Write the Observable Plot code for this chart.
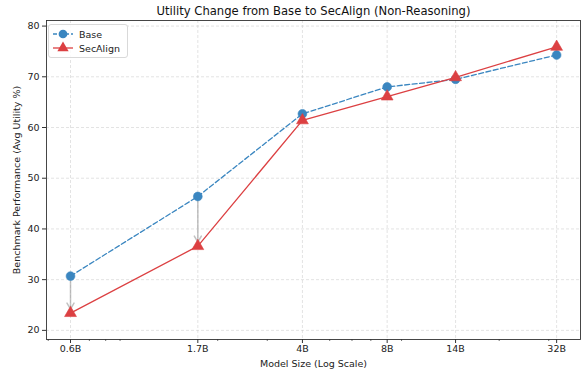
<!DOCTYPE html>
<html>
<head>
<meta charset="utf-8">
<script src="https://cdn.jsdelivr.net/npm/d3@7"></script>
<script src="https://cdn.jsdelivr.net/npm/@observablehq/plot@0.6"></script>
<style>
  html, body { margin: 0; padding: 0; background: #fff; }
  #wrap { position: relative; width: 582px; height: 374px; font-family: "DejaVu Sans", sans-serif; }
  #legend { position: absolute; left: 48px; top: 24px; width: 78px; height: 32px; border: 1px solid #d9d9d9; border-radius: 3px; background: rgba(255,255,255,0.85); font-size: 9.5px; color: #222; }
  .item { position: absolute; left: 3px; height: 14px; display: flex; align-items: center; }
  .item span { margin-left: 5px; }
</style>
</head>
<body>
<div id="wrap"></div>
<script>
const sizes = [0.6, 1.7, 4, 8, 14, 32];
const sizeLabels = ["0.6B", "1.7B", "4B", "8B", "14B", "32B"];
const baseValues = [30.7, 46.4, 62.7, 68.0, 69.5, 74.3];
const secAlignValues = [23.4, 36.6, 61.4, 66.1, 69.9, 75.9];
const yTicks = [20, 30, 40, 50, 60, 70, 80];
const minorTicks = [0.5, 0.7, 0.8, 0.9, 2, 3, 5, 6, 7, 9, 20, 30];
const arrowSizes = [0.6, 1.7];

const blue = "#3a86c0";
const red = "#dc4042";

const base = sizes.map((s, i) => ({size: s, value: baseValues[i]}));
const sec = sizes.map((s, i) => ({size: s, value: secAlignValues[i]}));
const ticksData = sizes.map((s, i) => ({size: s, label: sizeLabels[i]}));
const arrows = sizes.map((s, i) => ({size: s, from: baseValues[i], to: secAlignValues[i]}))
  .filter(d => arrowSizes.includes(d.size));

const chart = Plot.plot({
  width: 582,
  height: 374,
  marginLeft: 46,
  marginRight: 2,
  marginTop: 20,
  marginBottom: 35,
  style: {fontFamily: "DejaVu Sans, sans-serif", fontSize: "9.5px", color: "#222", background: "#fff"},
  x: {type: "log", domain: [0.493, 38.9]},
  y: {domain: [18.2, 81.1]},
  marks: [
    Plot.gridX(sizes, {stroke: "#bbb", strokeOpacity: 0.6, strokeDasharray: "3,2", strokeWidth: 0.7}),
    Plot.gridY(yTicks, {stroke: "#bbb", strokeOpacity: 0.6, strokeDasharray: "3,2", strokeWidth: 0.7}),
    Plot.axisX(minorTicks, {tickSize: 2, text: null, label: null, strokeWidth: 0.7, stroke: "#333"}),
    Plot.axisX(sizes, {tickSize: 4, text: null,
      label: "Model Size (Log Scale)", labelAnchor: "center", labelOffset: 27, labelArrow: "none", stroke: "#333"}),
    Plot.text(ticksData, {x: "size", text: "label", frameAnchor: "bottom", dy: 12, fill: "#222", fontSize: 9.5}),
    Plot.axisY(yTicks, {tickSize: 4, tickPadding: 3,
      label: "Benchmark Performance (Avg Utility %)", labelAnchor: "center", labelOffset: 33, labelArrow: "none", stroke: "#333"}),
    Plot.frame({stroke: "#333", strokeWidth: 0.9}),
    Plot.arrow(arrows, {x1: "size", x2: "size", y1: "from", y2: "to", stroke: "#999", strokeOpacity: 0.6,
      strokeWidth: 1.5, headLength: 7, insetStart: 5, insetEnd: 4}),
    Plot.line(base, {x: "size", y: "value", stroke: blue, strokeWidth: 1.3, strokeDasharray: "5,2.5"}),
    Plot.line(sec, {x: "size", y: "value", stroke: red, strokeWidth: 1.3}),
    Plot.dot(base, {x: "size", y: "value", r: 4.4, fill: blue, stroke: blue, strokeWidth: 0.6}),
    Plot.dot(sec, {x: "size", y: "value", symbol: "triangle", r: 4.4, fill: red, stroke: red, strokeWidth: 0.6}),
    Plot.text(["Utility Change from Base to SecAlign (Non-Reasoning)"], {frameAnchor: "top", dy: -9, fontSize: 11.6, fill: "#111", lineAnchor: "middle"})
  ]
});

const wrap = document.getElementById("wrap");
wrap.appendChild(chart);

const legend = document.createElement("div");
legend.id = "legend";
const entries = [
  {name: "Base", color: blue, dash: "4,2", marker: "circle", top: 2},
  {name: "SecAlign", color: red, dash: null, marker: "triangle", top: 16}
];
for (const e of entries) {
  const item = document.createElement("div");
  item.className = "item";
  item.style.top = e.top + "px";
  const ns = "http://www.w3.org/2000/svg";
  const svg = document.createElementNS(ns, "svg");
  svg.setAttribute("width", 22); svg.setAttribute("height", 14);
  const line = document.createElementNS(ns, "line");
  line.setAttribute("x1", 1); line.setAttribute("x2", 21); line.setAttribute("y1", 7); line.setAttribute("y2", 7);
  line.setAttribute("stroke", e.color); line.setAttribute("stroke-width", 1.3);
  if (e.dash) line.setAttribute("stroke-dasharray", e.dash);
  svg.appendChild(line);
  const sym = document.createElementNS(ns, "path");
  sym.setAttribute("transform", "translate(11,7)");
  sym.setAttribute("d", d3.symbol(e.marker === "circle" ? d3.symbolCircle : d3.symbolTriangle, e.marker === "circle" ? 60 : 55)());
  sym.setAttribute("fill", e.color);
  svg.appendChild(sym);
  item.appendChild(svg);
  const label = document.createElement("span");
  label.textContent = e.name;
  item.appendChild(label);
  legend.appendChild(item);
}
wrap.appendChild(legend);
</script>
</body>
</html>
